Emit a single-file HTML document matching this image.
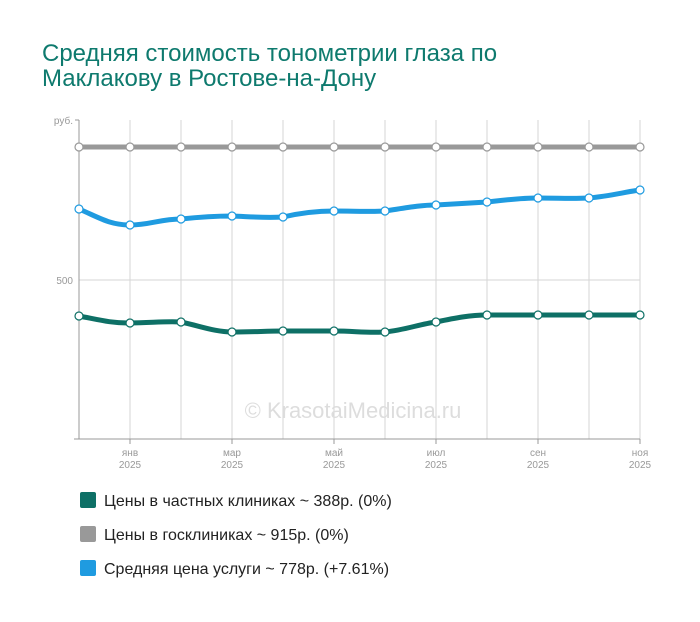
<!DOCTYPE html>
<html><head><meta charset="utf-8"><style>
body{margin:0;background:#fff;width:700px;height:617px;overflow:hidden;font-family:"Liberation Sans",sans-serif}
</style></head><body>
<svg width="700" height="617" xmlns="http://www.w3.org/2000/svg" font-family="Liberation Sans, sans-serif">
<text x="42" y="61" font-size="24" fill="#0e7a6e">Средняя стоимость тонометрии глаза по</text>
<text x="42" y="86" font-size="24" fill="#0e7a6e">Маклакову в Ростове-на-Дону</text>
<g stroke="#d6d6d6" stroke-width="1">
<line x1="130" y1="120" x2="130" y2="439"/><line x1="181" y1="120" x2="181" y2="439"/><line x1="232" y1="120" x2="232" y2="439"/><line x1="283" y1="120" x2="283" y2="439"/><line x1="334" y1="120" x2="334" y2="439"/><line x1="385" y1="120" x2="385" y2="439"/><line x1="436" y1="120" x2="436" y2="439"/><line x1="487" y1="120" x2="487" y2="439"/><line x1="538" y1="120" x2="538" y2="439"/><line x1="589" y1="120" x2="589" y2="439"/><line x1="640" y1="120" x2="640" y2="439"/>
<line x1="79" y1="280" x2="640" y2="280"/>
</g>
<g stroke="#999" stroke-width="1">
<line x1="79" y1="120" x2="79" y2="439"/><line x1="75" y1="120" x2="79" y2="120"/>
<line x1="74" y1="439" x2="640" y2="439"/>
<line x1="130" y1="439" x2="130" y2="444"/><line x1="232" y1="439" x2="232" y2="444"/><line x1="334" y1="439" x2="334" y2="444"/><line x1="436" y1="439" x2="436" y2="444"/><line x1="538" y1="439" x2="538" y2="444"/><line x1="640" y1="439" x2="640" y2="444"/>
</g>
<g font-size="10" fill="#999" text-anchor="end"><text x="73" y="124">руб.</text><text x="73" y="284">500</text></g>
<g font-size="10" fill="#999" text-anchor="middle">
<text x="130" y="456">янв</text><text x="130" y="468">2025</text>
<text x="232" y="456">мар</text><text x="232" y="468">2025</text>
<text x="334" y="456">май</text><text x="334" y="468">2025</text>
<text x="436" y="456">июл</text><text x="436" y="468">2025</text>
<text x="538" y="456">сен</text><text x="538" y="468">2025</text>
<text x="640" y="456">ноя</text><text x="640" y="468">2025</text>
</g>
<text x="353" y="418" font-size="22" fill="#ddd" text-anchor="middle">© KrasotaiMedicina.ru</text>
<polyline fill="none" stroke="#999" stroke-width="5" points="79,147 640,147"/>
<path fill="none" stroke="#1f9be0" stroke-width="5" stroke-linejoin="round" d="M79,209 C100,218 110,225 130,225 C150,225 160,219 181,219 C200,217 215,216 232,216 C255,217 265,218 283,217 C300,213 315,211 334,211 C355,211 365,212 385,211 C405,208 420,205 436,205 C455,204 470,203 487,202 C505,200 520,198 538,198 C560,198 570,199 589,198 C610,196 625,192 640,190"/>
<path fill="none" stroke="#0e7066" stroke-width="5" stroke-linejoin="round" d="M79,316 C100,320 110,323 130,323 C150,323 165,321 181,322 C200,326 215,332 232,332 C255,332 265,331 283,331 C300,331 315,331 334,331 C355,331 365,333 385,332 C405,330 420,324 436,322 C455,318 470,315 487,315 C510,315 520,315 538,315 L640,315"/>
<g fill="#fff" stroke="#999" stroke-width="1.2">
<circle cx="79" cy="147" r="4"/><circle cx="130" cy="147" r="4"/><circle cx="181" cy="147" r="4"/><circle cx="232" cy="147" r="4"/><circle cx="283" cy="147" r="4"/><circle cx="334" cy="147" r="4"/><circle cx="385" cy="147" r="4"/><circle cx="436" cy="147" r="4"/><circle cx="487" cy="147" r="4"/><circle cx="538" cy="147" r="4"/><circle cx="589" cy="147" r="4"/><circle cx="640" cy="147" r="4"/>
</g>
<g fill="#fff" stroke="#1f9be0" stroke-width="1.2">
<circle cx="79" cy="209" r="4"/><circle cx="130" cy="225" r="4"/><circle cx="181" cy="219" r="4"/><circle cx="232" cy="216" r="4"/><circle cx="283" cy="217" r="4"/><circle cx="334" cy="211" r="4"/><circle cx="385" cy="211" r="4"/><circle cx="436" cy="205" r="4"/><circle cx="487" cy="202" r="4"/><circle cx="538" cy="198" r="4"/><circle cx="589" cy="198" r="4"/><circle cx="640" cy="190" r="4"/>
</g>
<g fill="#fff" stroke="#0e7066" stroke-width="1.2">
<circle cx="79" cy="316" r="4"/><circle cx="130" cy="323" r="4"/><circle cx="181" cy="322" r="4"/><circle cx="232" cy="332" r="4"/><circle cx="283" cy="331" r="4"/><circle cx="334" cy="331" r="4"/><circle cx="385" cy="332" r="4"/><circle cx="436" cy="322" r="4"/><circle cx="487" cy="315" r="4"/><circle cx="538" cy="315" r="4"/><circle cx="589" cy="315" r="4"/><circle cx="640" cy="315" r="4"/>
</g>
<rect x="80" y="492" width="16" height="16" rx="2" fill="#0e7066"/>
<rect x="80" y="526" width="16" height="16" rx="2" fill="#999"/>
<rect x="80" y="560" width="16" height="16" rx="2" fill="#1f9be0"/>
<g font-size="16" fill="#222">
<text x="104" y="506">Цены в частных клиниках ~ 388р. (0%)</text>
<text x="104" y="540">Цены в госклиниках ~ 915р. (0%)</text>
<text x="104" y="574">Средняя цена услуги ~ 778р. (+7.61%)</text>
</g>
</svg>
</body></html>
